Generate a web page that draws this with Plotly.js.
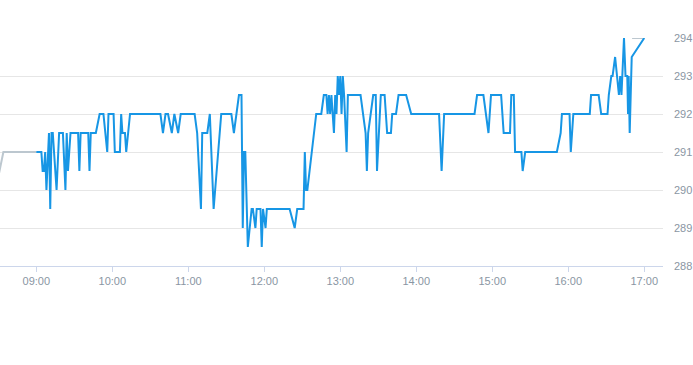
<!DOCTYPE html>
<html>
<head>
<meta charset="utf-8">
<script src="https://cdn.plot.ly/plotly-3.0.1.min.js"></script>
<style>
  html, body { margin: 0; padding: 0; background: #ffffff; }
  #chart { width: 693px; height: 365px; }
</style>
</head>
<body>
<div id="chart"></div>
<script>
var day = "2024-01-02 ";

// Pre-market (grey) segment
var preTimes = ["08:30", "08:34", "09:00"];
var preValues = [290.35, 291, 291];

// Main session (blue)
var mainTimes = [
  "09:00","09:04","09:05","09:06","09:07","09:08","09:10","09:11","09:12","09:13",
  "09:16","09:18","09:21","09:23","09:24","09:25","09:27","09:33","09:34","09:35",
  "09:41","09:42","09:43","09:47","09:50","09:53","09:56","09:57","10:01","10:02",
  "10:06","10:07","10:08","10:10","10:11","10:14","10:38","10:40","10:42","10:44",
  "10:47","10:49","10:52","10:54","11:05","11:07","11:10","11:11","11:15","11:17",
  "11:20","11:26","11:34","11:36","11:40","11:42","11:43","11:44","11:45","11:47",
  "11:50","11:51","11:53","11:54","11:57","11:58","11:59","12:01","12:02","12:20",
  "12:24","12:26","12:31","12:32","12:33","12:34","12:41","12:45","12:47","12:49",
  "12:50","12:51","12:52","12:53","12:55","12:56","12:57","12:58","12:59","13:00",
  "13:01","13:02","13:03","13:05","13:06","13:16","13:20","13:21","13:22","13:26",
  "13:28","13:29","13:32","13:35","13:37","13:40","13:41","13:44","13:46","13:52",
  "13:56","14:18","14:20","14:22","14:46","14:48","14:53","14:57","14:59","15:07",
  "15:09","15:14","15:15","15:17","15:18","15:23","15:24","15:26","15:51","15:54",
  "15:55","16:01","16:02","16:04","16:17","16:18","16:24","16:26","16:31","16:32",
  "16:34","16:35","16:37","16:40","16:41","16:42","16:44","16:45:12","16:46:36","16:47:12",
  "16:47:42","16:48:30","16:50:06","17:00"
];
var mainValues = [
  291,291,290.5,290.5,291,290,291.5,289.5,291.5,291.5,
  290,291.5,291.5,290,291.5,290.5,291.5,291.5,290.5,291.5,
  291.5,290.5,291.5,291.5,292,292,291,292,292,291,
  291,292,291.5,291.5,291,292,292,291.5,292,292,
  291.5,292,291.5,292,292,291.5,289.5,291.5,291.5,292,
  289.5,292,292,291.5,292.5,292.5,289,291,291,288.5,
  289.5,289.5,289,289.5,289.5,288.5,289.5,289,289.5,289.5,
  289,289.5,289.5,291,290,290,292,292,292.5,292.5,
  292,292.5,292,292.5,291.5,292.5,292,293,292.5,293,
  292,293,292.5,291,292.5,292.5,291.5,290.5,291.5,292.5,
  292.5,290.5,292.5,292.5,291.5,291.5,292,292,292.5,292.5,
  292,292,290.5,292,292,292.5,292.5,291.5,292.5,292.5,
  291.5,291.5,292.5,292.5,291,291,290.5,291,291,291.5,
  292,292,291,292,292,292.5,292.5,292,292,292.5,
  293,293,293.5,292.5,293,292.5,294,293,293,292,
  293,291.5,293.5,294
];

// Post segment (grey)
var postTimes = ["16:50:24", "17:00"];
var postValues = [294, 294];

function withDay(arr) { return arr.map(function (t) { return day + t; }); }

var traces = [
  {
    x: withDay(preTimes), y: preValues, type: "scatter", mode: "lines",
    line: { color: "#bcc7cf", width: 2 }, hoverinfo: "skip"
  },
  {
    x: withDay(postTimes), y: postValues, type: "scatter", mode: "lines",
    line: { color: "#bcc7cf", width: 2 }, hoverinfo: "skip"
  },
  {
    x: withDay(mainTimes), y: mainValues, type: "scatter", mode: "lines",
    line: { color: "#1796e5", width: 2 }, hoverinfo: "skip"
  }
];

var layout = {
  width: 693, height: 365,
  margin: { l: 0, r: 30, t: 38, b: 99, pad: 0 },
  paper_bgcolor: "#ffffff", plot_bgcolor: "#ffffff",
  showlegend: false,
  hovermode: false,
  font: { family: "Liberation Sans, Arial, sans-serif", size: 11, color: "#8a96a3" },
  xaxis: {
    type: "date",
    range: [day + "08:31:20", day + "17:14:48"],
    tickformat: "%H:%M",
    dtick: 3600000,
    tick0: day + "09:00",
    showgrid: false,
    zeroline: false,
    showline: true, linecolor: "#ccd6eb", linewidth: 1,
    ticks: "outside", ticklen: 5, tickcolor: "#ccd6eb", tickwidth: 1,
    tickfont: { size: 11, color: "#8a96a3" },
    fixedrange: true
  },
  yaxis: {
    side: "right",
    range: [288, 294],
    dtick: 1, tick0: 288,
    showgrid: true, gridcolor: "#e6e6e6", gridwidth: 1,
    zeroline: false, showline: false,
    ticks: "", ticklabelstandoff: 10,
    tickfont: { size: 11, color: "#8a96a3" },
    fixedrange: true
  }
};

Plotly.newPlot("chart", traces, layout, { staticPlot: true, displayModeBar: false });
</script>
</body>
</html>
